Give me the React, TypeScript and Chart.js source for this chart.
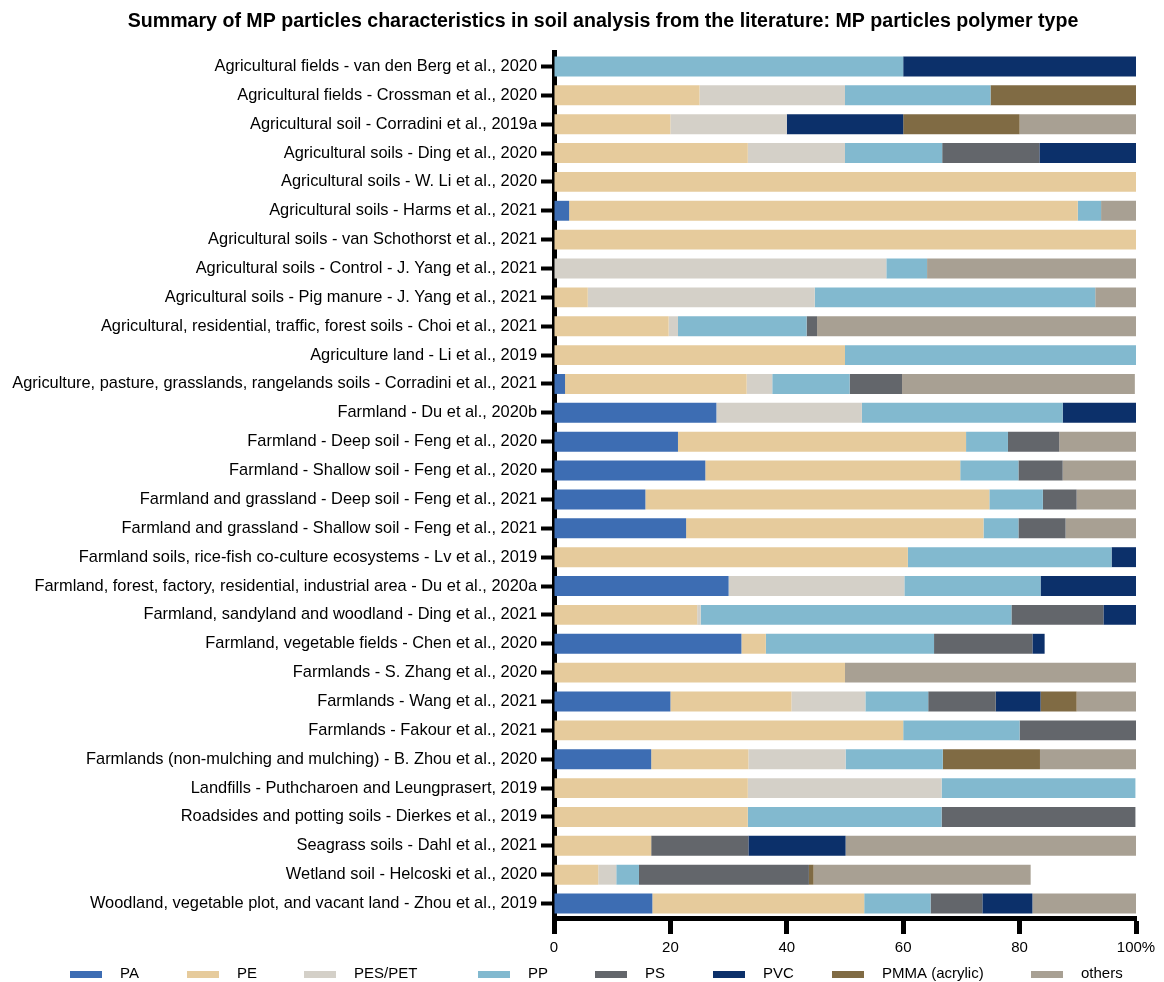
import React, { useEffect, useRef } from "react";
import { Chart, registerables } from "chart.js";

Chart.register(...registerables);

const categories = [
  "Agricultural fields - van den Berg et al., 2020",
  "Agricultural fields - Crossman et al., 2020",
  "Agricultural soil - Corradini et al., 2019a",
  "Agricultural soils - Ding et al., 2020",
  "Agricultural soils - W. Li et al., 2020",
  "Agricultural soils - Harms et al., 2021",
  "Agricultural soils - van Schothorst et al., 2021",
  "Agricultural soils - Control - J. Yang et al., 2021",
  "Agricultural soils - Pig manure - J. Yang et al., 2021",
  "Agricultural, residential, traffic, forest soils - Choi et al., 2021",
  "Agriculture land - Li et al., 2019",
  "Agriculture, pasture, grasslands, rangelands soils - Corradini et al., 2021",
  "Farmland - Du et al., 2020b",
  "Farmland - Deep soil - Feng et al., 2020",
  "Farmland - Shallow soil - Feng et al., 2020",
  "Farmland and grassland - Deep soil - Feng et al., 2021",
  "Farmland and grassland - Shallow soil - Feng et al., 2021",
  "Farmland soils, rice-fish co-culture ecosystems - Lv et al., 2019",
  "Farmland, forest, factory, residential, industrial area - Du et al., 2020a",
  "Farmland, sandyland and woodland - Ding et al., 2021",
  "Farmland, vegetable fields - Chen et al., 2020",
  "Farmlands - S. Zhang et al., 2020",
  "Farmlands - Wang et al., 2021",
  "Farmlands - Fakour et al., 2021",
  "Farmlands (non-mulching and mulching) - B. Zhou et al., 2020",
  "Landfills - Puthcharoen and Leungprasert, 2019",
  "Roadsides and potting soils - Dierkes et al., 2019",
  "Seagrass soils - Dahl et al., 2021",
  "Wetland soil - Helcoski et al., 2020",
  "Woodland, vegetable plot, and vacant land - Zhou et al., 2019",
];

const PA = [0, 0, 0, 0, 0, 2.6, 0, 0, 0, 0, 0, 1.9, 27.9, 21.3, 26, 15.7, 22.7, 0, 30, 0, 32.2, 0, 20, 0, 16.7, 0, 0, 0, 0, 16.9];
const PE = [0, 25, 20, 33.3, 100, 87.4, 100, 0, 5.8, 19.7, 50, 31.2, 0, 49.5, 43.8, 59.1, 51.1, 60.8, 0, 24.6, 4.2, 50, 20.8, 60, 16.7, 33.3, 33.3, 16.7, 7.6, 36.4];
const PES_PET = [0, 25, 20, 16.7, 0, 0, 0, 57.1, 39, 1.6, 0, 4.4, 25, 0, 0, 0, 0, 0, 30.2, 0.6, 0, 0, 12.7, 0, 16.7, 33.3, 0, 0, 3.1, 0];
const PP = [60, 25, 0, 16.7, 0, 4, 0, 7, 48.2, 22.1, 50, 13.3, 34.5, 7.2, 10, 9.2, 6, 35, 23.4, 53.4, 28.9, 0, 10.8, 20, 16.7, 33.3, 33.3, 0, 3.9, 11.4];
const PS = [0, 0, 0, 16.7, 0, 0, 0, 0, 0, 1.8, 0, 9, 0, 8.8, 7.6, 5.8, 8.1, 0, 0, 15.8, 16.9, 0, 11.6, 20, 0, 0, 33.3, 16.7, 29.2, 8.9];
const PVC = [40, 0, 20, 16.6, 0, 0, 0, 0, 0, 0, 0, 0, 12.6, 0, 0, 0, 0, 4.2, 16.4, 5.6, 2.1, 0, 7.7, 0, 0, 0, 0, 16.7, 0, 8.6];
const PMMA = [0, 25, 20, 0, 0, 0, 0, 0, 0, 0, 0, 0, 0, 0, 0, 0, 0, 0, 0, 0, 0, 0, 6.2, 0, 16.7, 0, 0, 0, 0.8, 0];
const OTHERS = [0, 0, 20, 0, 0, 6, 0, 35.9, 7, 54.8, 0, 40, 0, 13.2, 12.6, 10.2, 12.1, 0, 0, 0, 0, 50, 10.2, 0, 16.6, 0, 0, 49.9, 37.3, 17.8];

const seriesNames = ["PA", "PE", "PES/PET", "PP", "PS", "PVC", "PMMA (acrylic)", "others"];
const seriesValues = [PA, PE, PES_PET, PP, PS, PVC, PMMA, OTHERS];
const seriesColors = ["#3d6db3", "#e6cb9c", "#d4d0c8", "#82b9cf", "#63666b", "#0c306a", "#806b44", "#a8a093"];

const xTicks = [0, 20, 40, 60, 80, 100];
const titleText = "Summary of MP particles characteristics in soil analysis from the literature: MP particles polymer type";

const FONT = "'Liberation Sans', Arial, Helvetica, sans-serif";
const legendBoxX = [70, 187, 304, 478, 595, 713, 832, 1031];

const overlayPlugin = {
  id: "overlay",
  afterDraw(chart: any) {
    const ctx = chart.ctx;
    ctx.save();
    ctx.fillStyle = "#000";
    ctx.font = `bold 19.6px ${FONT}`;
    ctx.textAlign = "center";
    ctx.textBaseline = "middle";
    ctx.fillText(titleText, 603, 22);
    ctx.font = `15px ${FONT}`;
    ctx.textAlign = "left";
    seriesNames.forEach((name, i) => {
      const x = legendBoxX[i];
      ctx.fillStyle = seriesColors[i];
      ctx.fillRect(x, 971, 32, 7);
      ctx.fillStyle = "#000";
      ctx.fillText(name, x + 50, 974);
    });
    ctx.restore();
  },
};

export default function App() {
  const ref = useRef<HTMLCanvasElement>(null);
  useEffect(() => {
    document.body.style.margin = "0";
    document.body.style.overflow = "hidden";
    const chart = new Chart(ref.current!, {
      type: "bar",
      data: {
        labels: categories,
        datasets: seriesNames.map((name, i) => ({
          label: name,
          data: seriesValues[i],
          backgroundColor: seriesColors[i],
          borderWidth: 0,
          barPercentage: 0.69,
          categoryPercentage: 1,
        })),
      },
      options: {
        indexAxis: "y",
        responsive: false,
        animation: false,
        devicePixelRatio: 1,
        layout: { padding: { left: 0, right: 28, top: 52, bottom: 24 } },
        plugins: {
          legend: { display: false },
          title: { display: false },
          tooltip: { enabled: false },
        },
        scales: {
          x: {
            stacked: true,
            min: 0,
            max: 100,
            afterBuildTicks: (scale: any) => {
              scale.ticks = xTicks.map((v) => ({ value: v }));
            },
            afterFit: (scale: any) => {
              scale.height = 40;
            },
            ticks: {
              color: "#000",
              font: { family: FONT, size: 15 },
              padding: 5,
              maxRotation: 0,
              callback: (v: any) => (v === 100 ? "100%" : String(v)),
            },
            grid: {
              display: true,
              drawOnChartArea: false,
              drawTicks: true,
              tickLength: 16,
              tickWidth: 5,
              tickColor: "#000",
            },
            border: { display: true, width: 5, color: "#000" },
          },
          y: {
            stacked: true,
            afterFit: (scale: any) => {
              scale.width = 554;
            },
            ticks: {
              color: "#000",
              font: { family: FONT, size: 16.4 },
              padding: 4,
              autoSkip: false,
            },
            grid: {
              display: true,
              drawOnChartArea: false,
              drawTicks: true,
              tickLength: 13,
              tickWidth: 4,
              tickColor: "#000",
              offset: false,
            },
            border: { display: true, width: 5, color: "#000" },
          },
        },
      },
      plugins: [overlayPlugin],
    } as any);
    return () => chart.destroy();
  }, []);
  return (
    <div style={{ width: 1164, height: 982 }}>
      <canvas ref={ref} width={1164} height={982} style={{ display: "block" }} />
    </div>
  );
}
